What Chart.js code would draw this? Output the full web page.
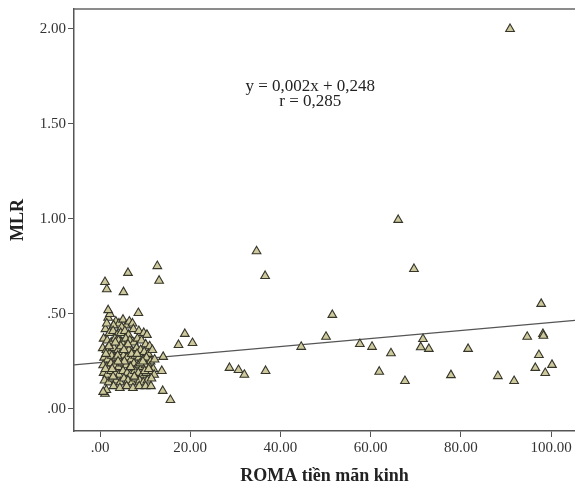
<!DOCTYPE html>
<html>
<head>
<meta charset="utf-8">
<script src="https://cdn.jsdelivr.net/npm/chart.js@4/dist/chart.umd.min.js"></script>
<style>
  html, body { margin: 0; padding: 0; background: #fff; }
  #wrap { width: 575px; height: 489px; position: relative; }
</style>
</head>
<body>
<div id="wrap"><canvas id="myChart"></canvas></div>
<script>
// ROMA tiền mãn kinh (x) vs MLR (y)
var romaX = [
    3.5, 4.2, 5.1, 5.8, 6.5, 7.2, 4.8, 3.0,
    1.2, 2.1, 2.9, 3.8, 4.6, 5.5, 6.3, 7.4, 8.6, 9.7, 10.4, 1.8, 2.2, 1.5,
    0.8, 1.6, 2.5, 3.3, 4.1, 4.9, 5.7, 6.6, 7.5, 8.3, 9.2, 10.1, 11.0,
    0.6, 1.4, 2.3, 3.1, 4.0, 4.8, 5.6, 6.4, 7.3, 8.1, 9.0, 9.8, 10.7, 11.6,
    0.9, 1.7, 2.6, 3.5, 4.3, 5.2, 6.0, 6.9, 7.8, 8.6, 9.5, 10.3, 11.2, 12.1,
    0.7, 1.5, 2.4, 3.2, 4.1, 4.9, 5.8, 6.7, 7.5, 8.4, 9.3, 10.1, 11.0, 11.8,
    0.8, 1.6, 2.5, 3.4, 4.2, 5.1, 6.0, 6.8, 7.7, 8.5, 9.4, 10.2, 11.1, 12.0,
    1.0, 1.9, 2.8, 3.6, 4.5, 5.3, 6.2, 7.1, 7.9, 8.8, 9.6, 10.5, 11.4,
    3.0, 4.4, 5.9, 7.3, 8.7, 10.1, 11.3,
    1.1, 1.4, 0.7,
    2.0, 3.9, 5.4, 6.2, 7.0, 8.9, 1.2, 2.9, 4.6, 9.9,
    1.3, 2.7, 4.0, 5.3, 6.8, 8.2, 9.5, 3.4, 7.6, 10.8,
    1.1, 1.5, 6.2, 12.7, 13.1, 5.2, 34.7, 36.6, 1.8, 8.5,
    18.8, 17.4, 20.5, 14.0, 13.7, 28.7, 30.7, 32.0, 36.7, 13.9, 15.6,
    69.6, 51.5, 50.1, 44.6, 57.6, 60.3, 64.5, 61.9, 67.6, 71.6, 71.1, 72.9,
    81.6, 77.8, 88.2, 91.8, 97.8, 94.7, 98.2, 98.3, 97.3, 96.5, 98.7, 100.2,
    66.1, 90.9
];
var mlrY = [
    0.46, 0.45, 0.47, 0.44, 0.46, 0.45, 0.43, 0.44,
    0.42, 0.40, 0.41, 0.39, 0.40, 0.41, 0.39, 0.42, 0.41, 0.40, 0.39, 0.48, 0.50, 0.45,
    0.37, 0.36, 0.35, 0.37, 0.36, 0.35, 0.37, 0.36, 0.35, 0.37, 0.36, 0.34, 0.33,
    0.32, 0.31, 0.30, 0.32, 0.31, 0.30, 0.32, 0.31, 0.30, 0.32, 0.31, 0.30, 0.29, 0.31,
    0.27, 0.26, 0.28, 0.27, 0.26, 0.28, 0.27, 0.26, 0.28, 0.27, 0.26, 0.27, 0.25, 0.26,
    0.23, 0.22, 0.24, 0.23, 0.22, 0.24, 0.23, 0.22, 0.24, 0.23, 0.22, 0.23, 0.22, 0.21,
    0.19, 0.18, 0.20, 0.19, 0.18, 0.20, 0.19, 0.18, 0.20, 0.19, 0.18, 0.19, 0.20, 0.18,
    0.15, 0.14, 0.16, 0.15, 0.14, 0.16, 0.15, 0.14, 0.16, 0.15, 0.14, 0.15, 0.16,
    0.12, 0.11, 0.12, 0.11, 0.12, 0.12, 0.12,
    0.08, 0.10, 0.09,
    0.33, 0.28, 0.25, 0.34, 0.29, 0.24, 0.21, 0.17, 0.33, 0.20,
    0.29, 0.21, 0.25, 0.31, 0.22, 0.29, 0.25, 0.35, 0.17, 0.21,
    0.668, 0.63, 0.716, 0.752, 0.675, 0.615, 0.83, 0.70, 0.52, 0.505,
    0.395, 0.337, 0.347, 0.274, 0.20, 0.216, 0.205, 0.18, 0.20, 0.095, 0.047,
    0.737, 0.495, 0.38, 0.327, 0.342, 0.327, 0.293, 0.196, 0.147, 0.368, 0.325, 0.316,
    0.316, 0.178, 0.173, 0.147, 0.553, 0.38, 0.395, 0.385, 0.284, 0.216, 0.189, 0.232,
    0.995, 2.00
];

// fit line end points
var fitX = [-5.77, 105.3];
var fitY = [0.232, 0.466];

var xTicks = [0, 20, 40, 60, 80, 100];
var yTicks = [0, 0.5, 1, 1.5, 2];
var equationLines = ['y = 0,002x + 0,248', 'r = 0,285'];

function fmt(v) {
    var s = v.toFixed(2);
    return s.indexOf('0.') === 0 ? s.substring(1) : s;
}

var puntos = romaX.map(function (x, i) {
    return { x: x, y: mlrY[i] };
});
var linea = fitX.map(function (x, i) {
    return { x: x, y: fitY[i] };
});

var serif = "'Liberation Serif', 'Times New Roman', serif";

// marco superior + texto de la ecuacion
var extras = {
    id: 'extras',
    afterDraw: function (chart) {
        var ctx = chart.ctx;
        var a = chart.chartArea;
        ctx.save();
        ctx.strokeStyle = '#666';
        ctx.lineWidth = 1.5;
        ctx.beginPath();
        ctx.moveTo(a.left, a.top);
        ctx.lineTo(a.right, a.top);
        ctx.stroke();

        var sx = chart.scales.x, sy = chart.scales.y;
        ctx.fillStyle = '#222';
        ctx.font = '17px ' + serif;
        ctx.textAlign = 'center';
        ctx.textBaseline = 'middle';
        ctx.fillText(equationLines[0], sx.getPixelForValue(46.6), sy.getPixelForValue(1.695));
        ctx.fillText(equationLines[1], sx.getPixelForValue(46.6), sy.getPixelForValue(1.616));
        ctx.restore();
    }
};

var ctx = document.getElementById('myChart').getContext('2d');
new Chart(ctx, {
    type: 'scatter',
    data: {
        datasets: [
            {
                data: linea,
                type: 'line',
                showLine: true,
                borderColor: '#555',
                borderWidth: 1.2,
                pointRadius: 0,
                fill: false,
                order: 2
            },
            {
                data: puntos,
                pointStyle: 'triangle',
                pointRadius: 5,
                backgroundColor: '#cdc99c',
                borderColor: '#35352a',
                borderWidth: 1.1,
                order: 1
            }
        ]
    },
    options: {
        responsive: true,
        maintainAspectRatio: false,
        animation: false,
        layout: { autoPadding: false, padding: { top: 9, right: 0, left: 0, bottom: 0 } },
        plugins: {
            legend: { display: false },
            tooltip: { enabled: false }
        },
        scales: {
            x: {
                type: 'linear',
                min: -5.77,
                max: 105.3,
                afterBuildTicks: function (s) {
                    s.ticks = xTicks.map(function (v) { return { value: v }; });
                },
                afterFit: function (s) {
                    s.height = 58;
                    s.paddingLeft = 0;
                    s.paddingRight = 0;
                },
                ticks: {
                    callback: function (v) { return fmt(v); },
                    color: '#333',
                    font: { family: serif, size: 15 },
                    padding: 2,
                    maxRotation: 0
                },
                grid: { drawOnChartArea: false, drawTicks: true, tickLength: 6, color: '#555' },
                border: { display: true, color: '#555', width: 1.5 },
                title: {
                    display: true,
                    text: 'ROMA tiền mãn kinh',
                    color: '#222',
                    font: { family: serif, size: 18, weight: 'bold' },
                    padding: { top: 0, bottom: 2 }
                }
            },
            y: {
                type: 'linear',
                min: -0.116,
                max: 2.105,
                afterBuildTicks: function (s) {
                    s.ticks = yTicks.map(function (v) { return { value: v }; });
                },
                afterFit: function (s) {
                    s.width = 74;
                    s.paddingTop = 0;
                    s.paddingBottom = 0;
                },
                ticks: {
                    callback: function (v) { return fmt(v); },
                    color: '#333',
                    font: { family: serif, size: 15 },
                    padding: 2
                },
                grid: { drawOnChartArea: false, drawTicks: true, tickLength: 6, color: '#555' },
                border: { display: true, color: '#555', width: 1.5 },
                title: {
                    display: true,
                    text: 'MLR',
                    color: '#222',
                    font: { family: serif, size: 18, weight: 'bold' },
                    padding: { top: 8, bottom: 0 }
                }
            }
        }
    },
    plugins: [extras]
});
</script>
</body>
</html>
